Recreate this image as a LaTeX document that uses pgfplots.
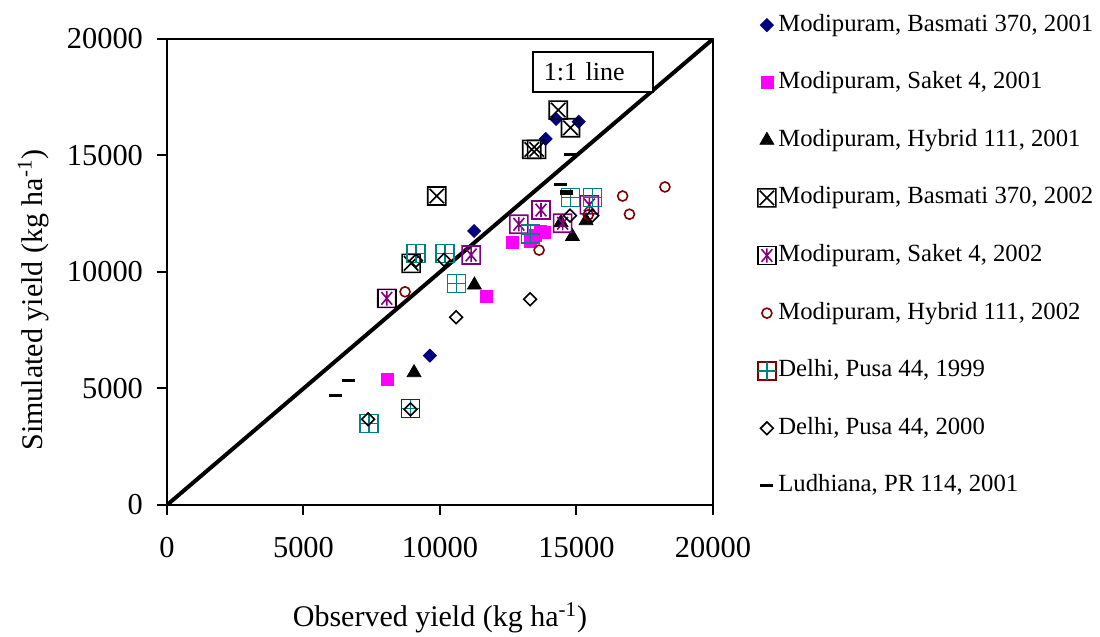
\documentclass[border=0pt]{standalone}
\usepackage{fontspec}
\setmainfont{Liberation Serif}
\usepackage{pgfplots}
\pgfplotsset{compat=1.18}
\definecolor{cnavy}{RGB}{0,0,128}
\definecolor{cmag}{RGB}{255,0,255}
\definecolor{cpurp}{RGB}{128,0,128}
\definecolor{cdred}{RGB}{128,0,0}
\definecolor{cteal}{RGB}{0,128,128}
\pgfdeclareplotmark{boxx}{%
  \pgfpathrectangle{\pgfqpoint{-\pgfplotmarksize}{-\pgfplotmarksize}}{\pgfqpoint{2\pgfplotmarksize}{2\pgfplotmarksize}}%
  \pgfpathmoveto{\pgfqpoint{-0.8\pgfplotmarksize}{-0.8\pgfplotmarksize}}\pgfpathlineto{\pgfqpoint{0.8\pgfplotmarksize}{0.8\pgfplotmarksize}}%
  \pgfpathmoveto{\pgfqpoint{-0.8\pgfplotmarksize}{0.8\pgfplotmarksize}}\pgfpathlineto{\pgfqpoint{0.8\pgfplotmarksize}{-0.8\pgfplotmarksize}}%
  \pgfusepathqstroke}
\pgfdeclareplotmark{boxast}{%
  \pgfpathrectangle{\pgfqpoint{-\pgfplotmarksize}{-\pgfplotmarksize}}{\pgfqpoint{2\pgfplotmarksize}{2\pgfplotmarksize}}%
  \pgfpathmoveto{\pgfqpoint{0pt}{-0.8\pgfplotmarksize}}\pgfpathlineto{\pgfqpoint{0pt}{0.8\pgfplotmarksize}}%
  \pgfpathmoveto{\pgfqpoint{-0.6\pgfplotmarksize}{-0.7\pgfplotmarksize}}\pgfpathlineto{\pgfqpoint{0.6\pgfplotmarksize}{0.7\pgfplotmarksize}}%
  \pgfpathmoveto{\pgfqpoint{-0.6\pgfplotmarksize}{0.7\pgfplotmarksize}}\pgfpathlineto{\pgfqpoint{0.6\pgfplotmarksize}{-0.7\pgfplotmarksize}}%
  \pgfusepathqstroke}
\pgfdeclareplotmark{boxastleg}{%
  \pgfsetstrokecolor{black}%
  \pgfpathrectangle{\pgfqpoint{-\pgfplotmarksize}{-\pgfplotmarksize}}{\pgfqpoint{2\pgfplotmarksize}{2\pgfplotmarksize}}%
  \pgfusepathqstroke
  \pgfsetstrokecolor{cpurp}%
  \pgfpathmoveto{\pgfqpoint{0pt}{-0.8\pgfplotmarksize}}\pgfpathlineto{\pgfqpoint{0pt}{0.8\pgfplotmarksize}}%
  \pgfpathmoveto{\pgfqpoint{-0.6\pgfplotmarksize}{-0.7\pgfplotmarksize}}\pgfpathlineto{\pgfqpoint{0.6\pgfplotmarksize}{0.7\pgfplotmarksize}}%
  \pgfpathmoveto{\pgfqpoint{-0.6\pgfplotmarksize}{0.7\pgfplotmarksize}}\pgfpathlineto{\pgfqpoint{0.6\pgfplotmarksize}{-0.7\pgfplotmarksize}}%
  \pgfusepathqstroke}
\pgfdeclareplotmark{boxplus}{%
  \pgfpathrectangle{\pgfqpoint{-\pgfplotmarksize}{-\pgfplotmarksize}}{\pgfqpoint{2\pgfplotmarksize}{2\pgfplotmarksize}}%
  \pgfpathmoveto{\pgfqpoint{0pt}{-\pgfplotmarksize}}\pgfpathlineto{\pgfqpoint{0pt}{\pgfplotmarksize}}%
  \pgfpathmoveto{\pgfqpoint{-\pgfplotmarksize}{0pt}}\pgfpathlineto{\pgfqpoint{\pgfplotmarksize}{0pt}}%
  \pgfusepathqstroke}
\pgfdeclareplotmark{boxplusleg}{%
  \pgfsetstrokecolor{cdred}%
  \pgfpathrectangle{\pgfqpoint{-\pgfplotmarksize}{-\pgfplotmarksize}}{\pgfqpoint{2\pgfplotmarksize}{2\pgfplotmarksize}}%
  \pgfusepathqstroke
  \pgfsetstrokecolor{cteal}%
  \pgfpathmoveto{\pgfqpoint{0pt}{-\pgfplotmarksize}}\pgfpathlineto{\pgfqpoint{0pt}{\pgfplotmarksize}}%
  \pgfpathmoveto{\pgfqpoint{-\pgfplotmarksize}{0pt}}\pgfpathlineto{\pgfqpoint{\pgfplotmarksize}{0pt}}%
  \pgfusepathqstroke}
\begin{document}
\begin{tikzpicture}
\useasboundingbox (-83.5pt,-66pt) rectangle (466.5pt,252.5pt);
\begin{axis}[
  at={(0,0)}, anchor=south west,
  scale only axis, width=273pt, height=233pt,
  xmin=0, xmax=20000, ymin=0, ymax=20000,
  xtick={0,5000,10000,15000,20000},
  ytick={0,5000,10000,15000,20000},
  tick pos=left, tick align=outside,
  major tick length=5pt,
  axis line style={line width=1pt},
  every tick/.style={black, line width=1pt},
  /pgf/number format/assume math mode=true,
  /pgf/number format/1000 sep={},
  scaled ticks=false,
  ticklabel style={font=\fontsize{15.2}{16}\selectfont},
  xticklabel style={yshift=-7.5pt},
  yticklabel style={xshift=-3.5pt},
  xlabel={Observed yield (kg ha\textsuperscript{-1})},
  ylabel={Simulated yield (kg ha\textsuperscript{-1})},
  label style={font=\fontsize{15}{16}\selectfont},
  xlabel style={at={(axis description cs:0.5,-0.2425)}, anchor=center},
  ylabel style={at={(axis description cs:-0.245,0.44)}, anchor=center},
  legend style={at={(1.0795,1.0555)}, anchor=north west, draw=none, fill=none,
    inner sep=0pt, outer sep=0pt,
    font=\fontsize{12.35}{13}\selectfont,
    row sep=16.8pt,
    nodes={text height=9pt, text depth=3pt, inner ysep=0pt, inner xsep=0.5pt},
    /tikz/column sep=0pt},
  legend cell align=left,
  legend image code/.code={\draw[#1] plot coordinates {(0pt,0pt)};\path (-4.5pt,0pt) (4.5pt,0pt);},
]
\addplot[forget plot, black, line width=2pt] coordinates {(0,0) (20000,20000)};
% Modipuram, Basmati 370, 2001
\addplot[only marks, mark=square*, mark size=2.3pt, mark options={rotate=45}, color=cnavy] coordinates {
(14250,16570) (15080,16450) (13870,15710) (11250,11760) (9630,6410)};
\addlegendentry{Modipuram, Basmati 370, 2001}
% Modipuram, Saket 4, 2001
\addplot[only marks, mark=square*, mark size=3pt, color=cmag] coordinates {
(12660,11270) (13810,11710) (13300,11300) (13500,11550) (13660,11730) (11710,8970) (8060,5390)};
\addlegendentry{Modipuram, Saket 4, 2001}
% Modipuram, Hybrid 111, 2001
\addplot[only marks, mark=triangle*, mark size=4pt, color=black] coordinates {
(11260,9440) (14850,11520) (15350,12200) (14430,12120) (9050,5680)};
\addlegendentry{Modipuram, Hybrid 111, 2001}
% Modipuram, Basmati 370, 2002
\addplot[only marks, mark=boxx, mark size=4.5pt, color=black, line width=0.8pt] coordinates {
(14330,16950) (14780,16190) (13360,15260) (13540,15260) (9880,13260) (8940,10370)};
\addlegendentry{Modipuram, Basmati 370, 2002}
% Modipuram, Saket 4, 2002
\addplot[only marks, mark=boxast, mark size=4.5pt, color=cpurp, line width=0.8pt,
  legend image post style={mark=boxastleg}] coordinates {
(13700,12660) (12890,12050) (11140,10730) (14490,12090) (15470,12880) (8050,8870)};
\addlegendentry{Modipuram, Saket 4, 2002}
% Modipuram, Hybrid 111, 2002
\addplot[only marks, mark=o, mark size=2.5pt, color=cdred, line width=0.8pt] coordinates {
(8720,9150) (13630,10940) (16690,13260) (16940,12480) (18240,13650) (15430,12450)};
\addlegendentry{Modipuram, Hybrid 111, 2002}
% Delhi, Pusa 44, 1999
\addplot[only marks, mark=boxplus, mark size=4.5pt, color=cteal, line width=0.8pt,
  legend image post style={mark=boxplusleg}] coordinates {
(9120,10800) (10180,10800) (10610,9510) (13310,11630) (14780,13200) (15590,13200) (7400,3500) (8920,4150)};
\addlegendentry{Delhi, Pusa 44, 1999}
% Delhi, Pusa 44, 2000
\addplot[only marks, mark=square, mark size=2.25pt, mark options={rotate=45}, color=black, line width=0.8pt] coordinates {
(9120,10490) (10150,10520) (14760,12420) (15580,12420) (13300,8830) (10590,8060) (7370,3680) (8920,4100)};
\addlegendentry{Delhi, Pusa 44, 2000}
% Ludhiana, PR 114, 2001
\addplot[only marks, mark=-, mark size=3.25pt, color=black, line width=1.5pt] coordinates {
(14780,15060) (14400,13760) (14650,13450) (14650,13350) (6640,5360) (6190,4680)};
\addlegendentry{Ludhiana, PR 114, 2001}
% overlay outlines
\addplot[forget plot, only marks, mark=square, mark size=4.5pt, color=black, line width=0.8pt] coordinates {(8050,8870)};
\addplot[forget plot, only marks, mark=square, mark size=4.5pt, color=cdred, line width=0.8pt] coordinates {(8920,4150)};
\node[draw=black, line width=0.8pt, fill=white, anchor=west, text width=49pt, inner xsep=5.5pt, align=left, minimum height=20pt, font=\fontsize{13}{14}\selectfont] at (axis cs:13370,18580) {1:1 line};
\end{axis}
\end{tikzpicture}
\end{document}
